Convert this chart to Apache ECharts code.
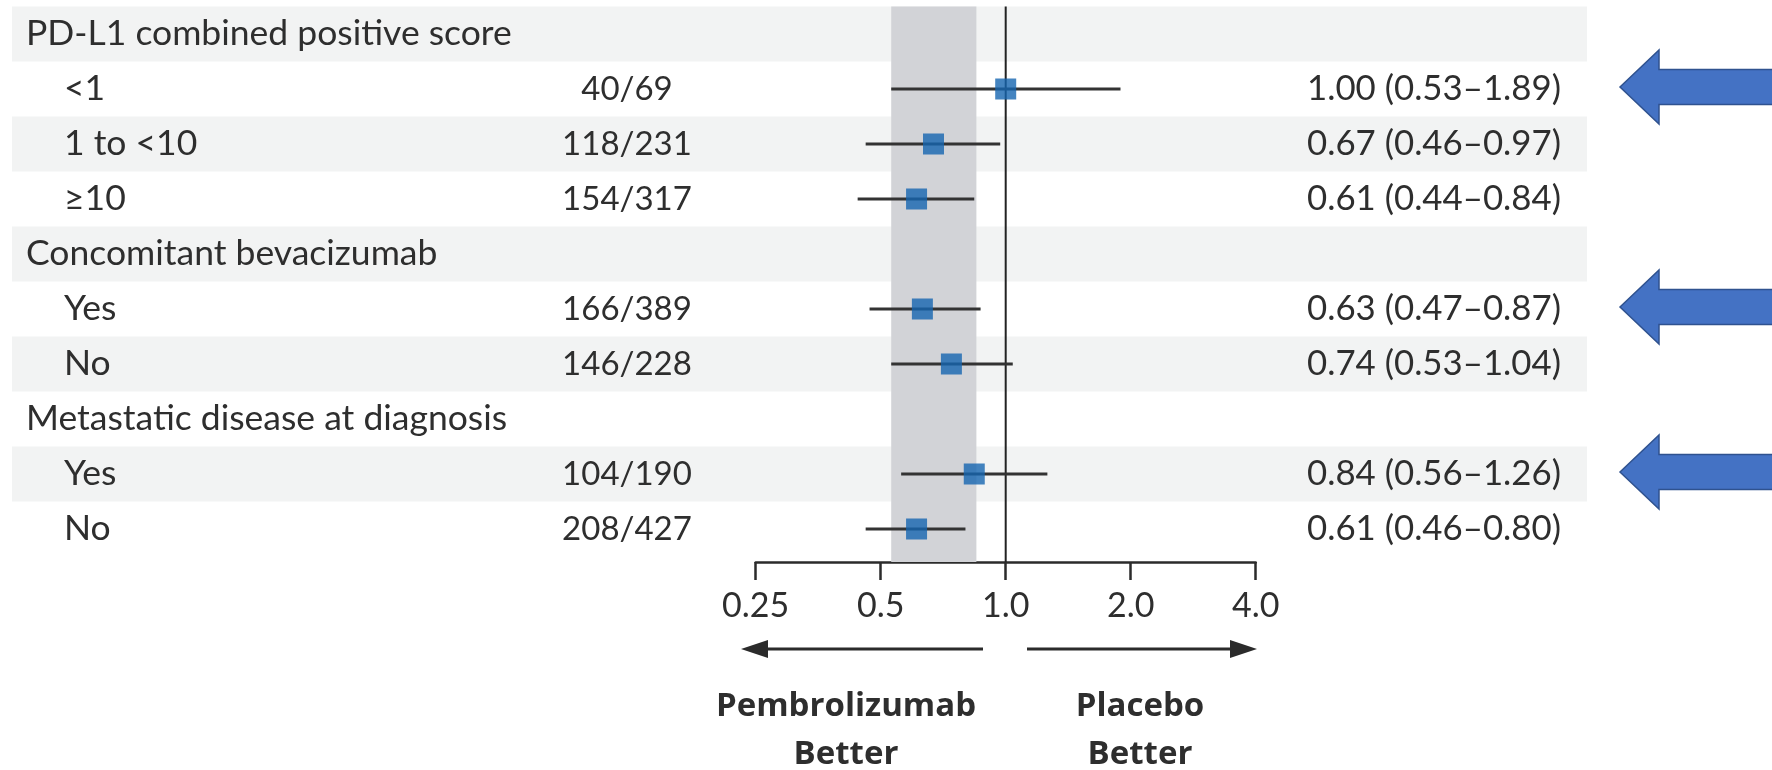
<!DOCTYPE html>
<html>
<head>
<meta charset="utf-8">
<script src="https://cdn.jsdelivr.net/npm/echarts@6/dist/echarts.min.js"></script>
<style>
  html, body { margin: 0; padding: 0; background: #ffffff; }
  #chart { width: 1772px; height: 770px; }
</style>
</head>
<body>
<div id="chart"></div>
<script>
// Subgroup rows of the forest plot, top to bottom
const rowLabels = [
  'PD-L1 combined positive score', '<1', '1 to <10', '\u226510',
  'Concomitant bevacizumab', 'Yes', 'No',
  'Metastatic disease at diagnosis', 'Yes', 'No'
];
const rowIsHeader = [true, false, false, false, true, false, false, true, false, false];
const eventCounts = ['', '40/69', '118/231', '154/317', '', '166/389', '146/228', '', '104/190', '208/427'];
const hazardRatio = [null, 1.00, 0.67, 0.61, null, 0.63, 0.74, null, 0.84, 0.61];
const ciLower     = [null, 0.53, 0.46, 0.44, null, 0.47, 0.53, null, 0.56, 0.46];
const ciUpper     = [null, 1.89, 0.97, 0.84, null, 0.87, 1.04, null, 1.26, 0.80];

// Hazard-ratio axis
const tickValues = [0.25, 0.5, 1, 2, 4];
const tickLabels = ['0.25', '0.5', '1.0', '2.0', '4.0'];

// Shaded reference band (overall confidence interval)
const overallBand = [0.53, 0.85];

// Rows flagged with a call-out arrow
const highlightedRows = [1, 5, 8];

const FONT = 'Lato';
const TEXT = '#2e2e2e';

const chart = echarts.init(document.getElementById('chart'), null, { renderer: 'canvas' });

const rowIdx = rowLabels.map((_, i) => [i]);
const ciData = [];
const pointData = [];
hazardRatio.forEach((v, i) => {
  if (v == null) return;
  ciData.push([ciLower[i], ciUpper[i], i]);
  pointData.push([v, i]);
});

function fmtHR(i) {
  return hazardRatio[i].toFixed(2) + ' (' + ciLower[i].toFixed(2) + '\u2013' + ciUpper[i].toFixed(2) + ')';
}

const option = {
  animation: false,
  backgroundColor: '#ffffff',
  grid: { left: 755.7, right: 516.3, top: 6.5, bottom: 208, containLabel: false },
  xAxis: {
    type: 'log',
    logBase: 2,
    min: 0.25,
    max: 4,
    splitNumber: 4,
    position: 'bottom',
    axisLine: { show: true, onZero: false, lineStyle: { color: '#2b2b2b', width: 2.5 } },
    axisTick: { show: true, inside: false, length: 18, lineStyle: { color: '#2b2b2b', width: 2.5 } },
    splitLine: { show: false },
    axisLabel: {
      margin: 27,
      fontFamily: FONT,
      fontSize: 34,
      color: TEXT,
      formatter: function (v) {
        const k = tickValues.findIndex(t => Math.abs(t - v) / t < 1e-6);
        return k >= 0 ? tickLabels[k] : '';
      }
    }
  },
  yAxis: {
    type: 'value',
    inverse: true,
    min: -0.5,
    max: 9.6,
    show: false
  },
  series: [
    {
      // alternating row shading
      type: 'custom',
      z: 1,
      clip: false,
      silent: true,
      data: rowIdx,
      encode: { y: 0 },
      renderItem: function (params, api) {
        const i = api.value(0);
        if (i % 2 !== 0) return null;
        const top = api.coord([1, i - 0.5])[1];
        const bottom = api.coord([1, i + 0.5])[1];
        return {
          type: 'rect',
          shape: { x: 12, y: top, width: 1575, height: bottom - top },
          style: { fill: '#f2f3f3' }
        };
      }
    },
    {
      // overall confidence band
      type: 'custom',
      z: 2,
      clip: false,
      silent: true,
      data: [[overallBand[0], overallBand[1]]],
      renderItem: function (params, api) {
        const p0 = api.coord([api.value(0), -0.5]);
        const p1 = api.coord([api.value(1), 9.6]);
        return {
          type: 'rect',
          shape: { x: p0[0], y: p0[1], width: p1[0] - p0[0], height: p1[1] - p0[1] },
          style: { fill: '#d2d3d7' }
        };
      }
    },
    {
      // line of no effect at HR = 1
      type: 'custom',
      z: 3,
      clip: false,
      silent: true,
      data: [[1]],
      renderItem: function (params, api) {
        const p0 = api.coord([api.value(0), -0.5]);
        const p1 = api.coord([api.value(0), 9.6]);
        return {
          type: 'line',
          shape: { x1: p0[0], y1: p0[1], x2: p1[0], y2: p1[1] },
          style: { stroke: '#222222', lineWidth: 2 }
        };
      }
    },
    {
      // 95% CI whiskers
      type: 'custom',
      z: 4,
      clip: false,
      silent: true,
      data: ciData,
      renderItem: function (params, api) {
        const a = api.coord([api.value(0), api.value(2)]);
        const b = api.coord([api.value(1), api.value(2)]);
        return {
          type: 'line',
          shape: { x1: a[0], y1: a[1], x2: b[0], y2: b[1] },
          style: { stroke: '#333333', lineWidth: 3 }
        };
      }
    },
    {
      // point estimates
      type: 'scatter',
      z: 5,
      silent: true,
      symbol: 'rect',
      symbolSize: 21,
      itemStyle: { color: '#1565b0' },
      data: pointData
    },
    {
      // table text: subgroup, events/patients, HR (95% CI)
      type: 'custom',
      z: 6,
      clip: false,
      silent: true,
      data: rowIdx,
      encode: { y: 0 },
      renderItem: function (params, api) {
        const i = api.value(0);
        const y = api.coord([1, i])[1];
        const children = [{
          type: 'text',
          style: {
            text: rowLabels[i], x: rowIsHeader[i] ? 26 : 64, y: y,
            align: 'left', verticalAlign: 'middle',
            fontFamily: FONT, fontSize: 35.5, fill: TEXT
          }
        }];
        if (eventCounts[i]) {
          children.push({
            type: 'text',
            style: {
              text: eventCounts[i], x: 627, y: y,
              align: 'center', verticalAlign: 'middle',
              fontFamily: FONT, fontSize: 33, fill: TEXT
            }
          });
        }
        if (hazardRatio[i] != null) {
          children.push({
            type: 'text',
            style: {
              text: fmtHR(i), x: 1307, y: y,
              align: 'left', verticalAlign: 'middle',
              fontFamily: FONT, fontSize: 34.8, fill: TEXT
            }
          });
        }
        return { type: 'group', children: children };
      }
    }
  ]
};

chart.setOption(option);

// Direction arrows and captions under the axis, plus call-out arrows on the right
function headPoints(tipX, y, dir) {
  const len = 27, half = 9;
  return [[tipX, y], [tipX - dir * len, y - half], [tipX - dir * len, y + half]];
}
const arrowY = 649;
const CAPTION_FONT = 'Open Sans';
const graphics = [
  { type: 'line', shape: { x1: 983, y1: arrowY, x2: 760, y2: arrowY }, style: { stroke: '#2b2b2b', lineWidth: 3 } },
  { type: 'polygon', shape: { points: headPoints(741, arrowY, -1) }, style: { fill: '#2b2b2b' } },
  { type: 'line', shape: { x1: 1027, y1: arrowY, x2: 1235, y2: arrowY }, style: { stroke: '#2b2b2b', lineWidth: 3 } },
  { type: 'polygon', shape: { points: headPoints(1257, arrowY, 1) }, style: { fill: '#2b2b2b' } },
  { type: 'text', style: { text: 'Pembrolizumab\nBetter', x: 846, y: 731, align: 'center', verticalAlign: 'middle', fontFamily: CAPTION_FONT, fontWeight: 'bold', fontSize: 33, lineHeight: 48, fill: TEXT } },
  { type: 'text', style: { text: 'Placebo\nBetter', x: 1140, y: 731, align: 'center', verticalAlign: 'middle', fontFamily: CAPTION_FONT, fontWeight: 'bold', fontSize: 33, lineHeight: 48, fill: TEXT } }
];
highlightedRows.forEach(function (r) {
  const y = chart.convertToPixel({ gridIndex: 0 }, [1, r])[1] - 2;
  graphics.push({
    type: 'polygon',
    shape: {
      points: [
        [1620, y], [1659, y - 37], [1659, y - 17.5], [1780, y - 17.5],
        [1780, y + 17.5], [1659, y + 17.5], [1659, y + 37]
      ]
    },
    style: { fill: '#4472c4', stroke: '#2f528f', lineWidth: 1.5 }
  });
});
chart.setOption({ graphic: graphics });
</script>
</body>
</html>
